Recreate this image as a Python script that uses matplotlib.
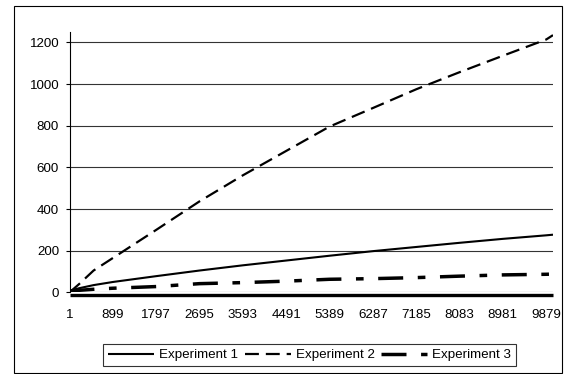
import matplotlib
matplotlib.use("Agg")
import matplotlib.pyplot as plt
from matplotlib.patches import Rectangle

plt.rcParams['font.family'] = ['Liberation Sans', 'DejaVu Sans']
plt.rcParams['lines.scale_dashes'] = False

x = [1, 200, 500, 899, 1797, 2695, 3593, 4491, 5389, 6287, 7185, 8083, 8981, 9879, 10020]
exp1 = [8, 20, 35, 50, 78, 105, 130, 153, 176, 198, 218, 238, 257, 274, 277]
exp2 = [0, 40, 105, 165, 300, 437, 562, 679, 796, 885, 975, 1057, 1136, 1214, 1235]
exp3 = [5, 10, 15, 20, 28, 42, 47, 54, 63, 66, 71, 78, 84, 87, 88]
xticks = [1, 899, 1797, 2695, 3593, 4491, 5389, 6287, 7185, 8083, 8981, 9879]
yticks = [0, 200, 400, 600, 800, 1000, 1200]
labels = ["Experiment 1", "Experiment 2", "Experiment 3"]

W, H = 565, 374
fig = plt.figure(figsize=(W / 100, H / 100), dpi=100)
fig.patch.set_facecolor('white')
fig.patches.append(Rectangle((13.5 / W, 1 - 372.5 / H), (561.5 - 13.5) / W, (372.5 - 5.5) / H,
                             transform=fig.transFigure, fill=False, edgecolor='black', lw=0.8))

left, right, top, bottom = 69.5, 553, 32, 292.4
ax = fig.add_axes([left / W, 1 - bottom / H, (right - left) / W, (bottom - top) / H])

l1, = ax.plot(x, exp1, color='black', lw=1.5, solid_capstyle='butt')
l2, = ax.plot(x, exp2, color='black', lw=1.6, dashes=(10, 5), dash_capstyle='butt')
l3, = ax.plot(x, exp3, color='black', lw=2.5, dashes=(18, 10.5, 5.5, 10.5), dash_capstyle='butt')

ax.set_xlim(1, 10020)
ax.set_ylim(0, 1250)
ax.set_yticks(yticks)
ax.set_xticks(xticks)
ax.set_xticklabels([str(v) for v in xticks])
ax.grid(axis='y', color='#333333', lw=0.8)
ax.set_axisbelow(True)
for s in ['top', 'right']:
    ax.spines[s].set_visible(False)
ax.spines['left'].set_linewidth(0.8)
ax.spines['bottom'].set_linewidth(2.4)
ax.spines['bottom'].set_position(('outward', 1.6))
ax.spines['bottom'].set_capstyle('butt')
ax.tick_params(axis='y', length=3, width=0.8, pad=4.5, labelsize=9.6)
ax.tick_params(axis='x', length=0, pad=10, labelsize=9.6)

leg = fig.legend([l1, l2, l3], labels, loc='center', bbox_to_anchor=(309.5 / W, 1 - 355 / H),
                 ncol=3, fontsize=9.6, frameon=True, fancybox=False, handlelength=3.45,
                 handletextpad=0.38, columnspacing=0.5, borderpad=0.35, borderaxespad=0)
leg.get_frame().set_edgecolor('black')
leg.get_frame().set_linewidth(0.8)

fig.savefig('out.png', dpi=100)
